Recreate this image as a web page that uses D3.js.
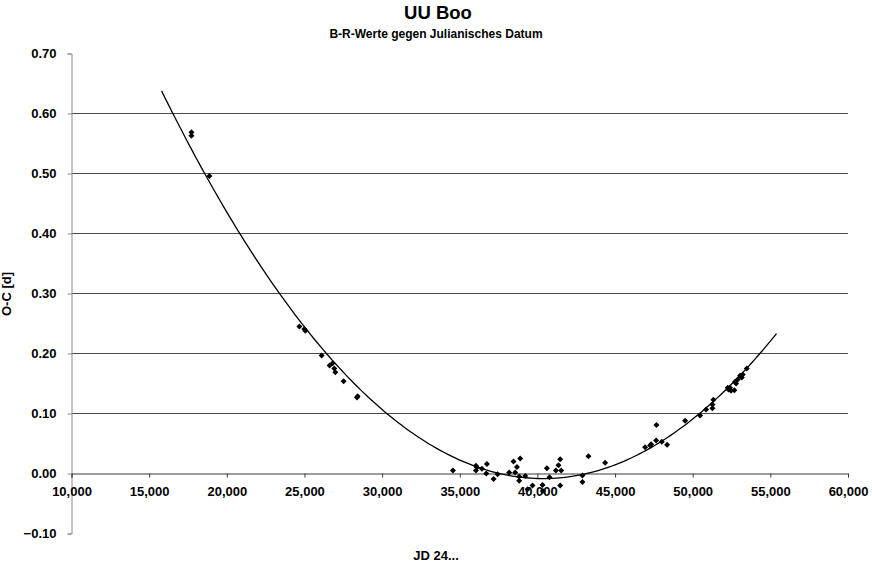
<!DOCTYPE html>
<html>
<head>
<meta charset="utf-8">
<script src="https://cdn.jsdelivr.net/npm/d3@7"></script>
<style>
  body { margin: 0; background: #fff; }
  text { font-family: "Liberation Sans", Arial, sans-serif; font-weight: bold; fill: #000; }
</style>
</head>
<body>
<svg id="chart" width="872" height="566"></svg>
<script>
// observations: JD - 2400000 and O-C in days
const jd = [
  17722, 17722, 18880,
  24672, 24994, 25058, 26107, 26622, 26815, 26924, 26988, 27524, 28385, 28424,
  34562, 36042, 36042, 36106, 36428, 36750, 36706, 37178, 37435, 38185, 38462,
  38682, 38893, 38571, 38829, 38829, 39215, 39365, 39686, 40330, 40611, 40352,
  40778, 41190, 41357, 41467, 41531, 41467, 42902, 42902, 43288, 44363,
  46937, 47259, 47323, 47664, 47645, 48011, 48353, 49511, 50476, 50862, 51270,
  51333, 51270, 52300, 52406, 52471, 52684, 52728, 52793, 52900, 53050, 53157,
  53222, 53479, 52256
];
const oc = [
  0.568, 0.562, 0.495,
  0.244, 0.240, 0.237, 0.196, 0.179, 0.183, 0.174, 0.168, 0.153, 0.126, 0.128,
  0.004, 0.012, 0.004, 0.009, 0.007, 0.015, -0.001, -0.010, -0.002, 0.001, 0.019,
  0.010, 0.024, 0.001, -0.006, -0.013, -0.005, -0.027, -0.021, -0.020, 0.008, -0.030,
  -0.007, 0.004, 0.013, 0.023, 0.004, -0.021, -0.004, -0.015, 0.028, 0.017,
  0.043, 0.046, 0.048, 0.080, 0.054, 0.052, 0.047, 0.087, 0.096, 0.106, 0.108,
  0.122, 0.114, 0.139, 0.142, 0.137, 0.138, 0.152, 0.149, 0.156, 0.162, 0.159,
  0.164, 0.174, 0.142
];
const yTicks = [-0.10, 0.00, 0.10, 0.20, 0.30, 0.40, 0.50, 0.60, 0.70];
const xTicks = [10000, 15000, 20000, 25000, 30000, 35000, 40000, 45000, 50000, 55000, 60000];
const trendRange = [15800, 55400];   // trendline forecast back/forward
const title = "UU Boo";
const subtitle = "B-R-Werte gegen Julianisches Datum";
const xTitle = "JD 24...";
const yTitle = "O-C [d]";

const svg = d3.select("#chart");
const plot = {left: 71.5, right: 848, top: 53, bottom: 533};

const x = d3.scaleLinear().domain([10000, 60000]).range([plot.left, plot.right]);
const y = d3.scaleLinear().domain([-0.10, 0.70]).range([plot.bottom, plot.top]);

// gridlines (not at the top or bottom)
svg.append("g")
  .selectAll("line")
  .data(yTicks.filter(d => d > 0 && d < 0.7))
  .enter().append("line")
    .attr("x1", plot.left).attr("x2", plot.right)
    .attr("y1", d => Math.round(y(d)) + 0.5).attr("y2", d => Math.round(y(d)) + 0.5)
    .style("stroke", "#4a4a4a").style("stroke-width", 1);

// y axis
const yAxis = svg.append("g")
  .attr("transform", "translate(" + plot.left + ",0.5)")
  .call(d3.axisLeft(y).tickValues(yTicks).tickFormat(d3.format(".2f")).tickSize(4).tickPadding(11));
yAxis.select(".domain").style("stroke", "#8a8a8a");
yAxis.selectAll(".tick line").style("stroke", "#8a8a8a");
yAxis.selectAll("text").style("font-size", "13px").style("font-family", null);

// x axis sits at zero
const xAxis = svg.append("g")
  .attr("transform", "translate(0," + (Math.round(y(0)) + 0.5) + ")")
  .call(d3.axisBottom(x).tickValues(xTicks).tickFormat(d3.format(",")).tickSize(4).tickSizeOuter(4).tickPadding(9));
xAxis.select(".domain").style("stroke", "#3a3a3a");
xAxis.selectAll(".tick line").style("stroke", "#3a3a3a");
xAxis.selectAll("text").style("font-size", "13px").style("font-family", null);

// polynomial trendline (order 2), least squares on the data
function polyFit(xs, ys, order) {
  const n = order + 1;
  const xm = d3.mean(xs), xsd = 10000;
  const A = Array.from({length: n}, () => new Array(n + 1).fill(0));
  xs.forEach((xv, i) => {
    const t = (xv - xm) / xsd;
    for (let r = 0; r < n; r++) {
      for (let c = 0; c < n; c++) A[r][c] += Math.pow(t, r + c);
      A[r][n] += ys[i] * Math.pow(t, r);
    }
  });
  for (let i = 0; i < n; i++) {
    let p = i;
    for (let k = i + 1; k < n; k++) if (Math.abs(A[k][i]) > Math.abs(A[p][i])) p = k;
    [A[i], A[p]] = [A[p], A[i]];
    for (let k = i + 1; k < n; k++) {
      const f = A[k][i] / A[i][i];
      for (let c = i; c <= n; c++) A[k][c] -= f * A[i][c];
    }
  }
  const coef = new Array(n).fill(0);
  for (let i = n - 1; i >= 0; i--) {
    let s = A[i][n];
    for (let c = i + 1; c < n; c++) s -= A[i][c] * coef[c];
    coef[i] = s / A[i][i];
  }
  return xv => coef.reduce((s, cf, k) => s + cf * Math.pow((xv - xm) / xsd, k), 0);
}
const trend = polyFit(jd, oc, 2);
const trendX = d3.range(trendRange[0], trendRange[1] + 1, 200);

svg.append("path")
  .datum(trendX)
  .attr("d", d3.line().x(d => x(d)).y(d => y(trend(d))))
  .style("fill", "none")
  .style("stroke", "#000")
  .style("stroke-width", 1.3);

// diamond markers
const diamond = {
  draw(ctx, size) {
    const r = Math.sqrt(size / 2);
    ctx.moveTo(0, -r); ctx.lineTo(r, 0); ctx.lineTo(0, r); ctx.lineTo(-r, 0); ctx.closePath();
  }
};
svg.append("g")
  .selectAll("path")
  .data(jd.map((d, i) => [d, oc[i]]))
  .enter().append("path")
    .attr("transform", d => "translate(" + x(d[0]) + "," + y(d[1]) + ")")
    .attr("d", d3.symbol().type(diamond).size(18))
    .style("fill", "#000");

// titles
svg.append("text").attr("x", 438).attr("y", 19).attr("text-anchor", "middle")
  .style("font-size", "18.5px").text(title);
svg.append("text").attr("x", 436).attr("y", 38).attr("text-anchor", "middle")
  .style("font-size", "12px").text(subtitle);
svg.append("text").attr("x", 436).attr("y", 560).attr("text-anchor", "middle")
  .style("font-size", "13px").text(xTitle);
svg.append("text").attr("transform", "translate(11,294) rotate(-90)").attr("text-anchor", "middle")
  .style("font-size", "13px").text(yTitle);
</script>
</body>
</html>
